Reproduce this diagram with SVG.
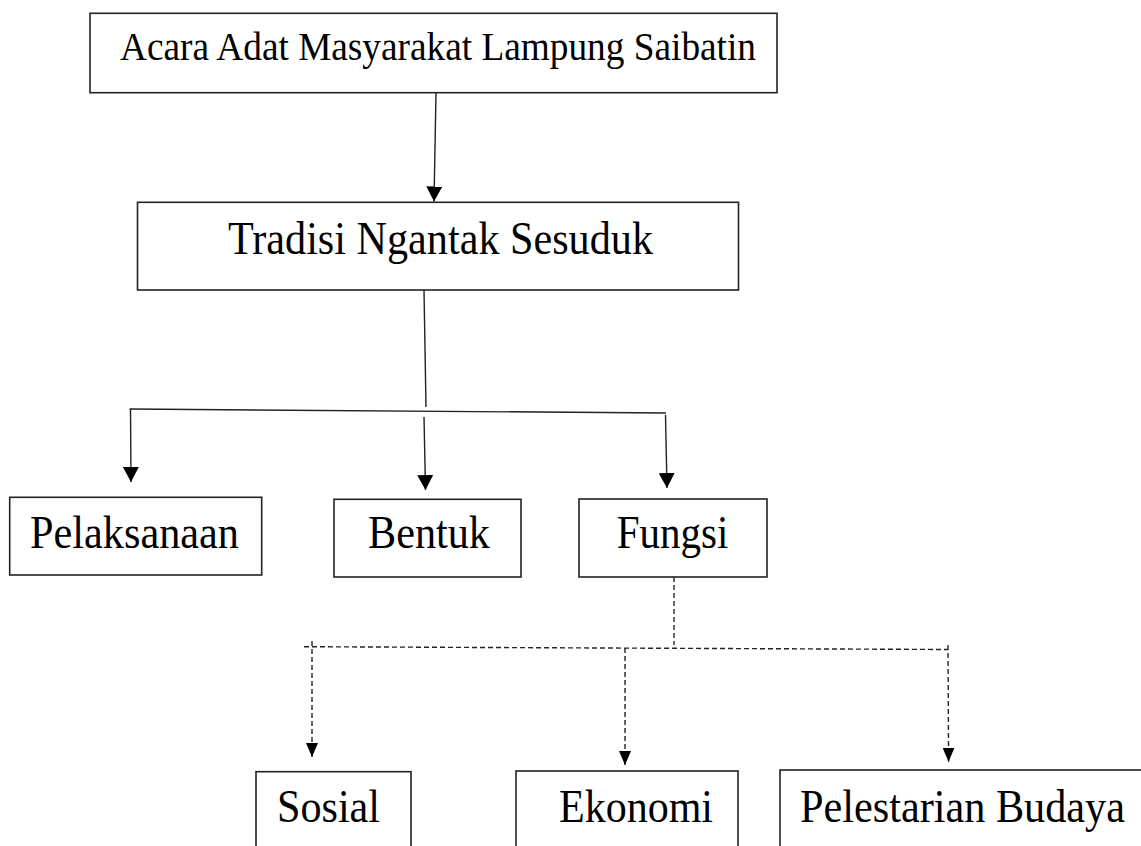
<svg xmlns="http://www.w3.org/2000/svg" width="1141" height="846" viewBox="0 0 1141 846">
<style>
.box{fill:#fff;stroke:#222;stroke-width:1.6}
.lbl{font-family:"Liberation Serif","Times New Roman",serif;fill:#000}
.big{font-size:46px}
.top{font-size:40px}
.ln{fill:none;stroke:#222;stroke-width:1.4}
.dash{fill:none;stroke:#222;stroke-width:1.4;stroke-dasharray:5 3}
</style>
<defs>
<marker id="arr" markerUnits="userSpaceOnUse" viewBox="0 0 15 16" markerWidth="15" markerHeight="16" refX="15" refY="8" orient="auto">
<path d="M0,0 L15,8 L0,16 z" fill="#000"/>
</marker>
<marker id="arrs" markerUnits="userSpaceOnUse" viewBox="0 0 14 12" markerWidth="14" markerHeight="12" refX="14" refY="6" orient="auto">
<path d="M0,0 L14,6 L0,12 z" fill="#000"/>
</marker>
</defs>
<g id="connectors">
<path class="ln" d="M436,93 L434,201.5" marker-end="url(#arr)"/>
<path class="ln" d="M424,290 L426,407"/>
<path class="ln" d="M129.6,409 L666,413"/>
<path class="ln" d="M130.5,409 L131,482" marker-end="url(#arr)"/>
<path class="ln" d="M424,417 L425.5,490" marker-end="url(#arr)"/>
<path class="ln" d="M665.5,415 L667,488" marker-end="url(#arr)"/>
<path class="dash" d="M674,577 L674,645"/>
<path class="dash" d="M304,646.7 L948,649.5"/>
<path class="dash" d="M312,641 L312,757" marker-end="url(#arrs)"/>
<path class="dash" d="M625,648 L625,765" marker-end="url(#arrs)"/>
<path class="dash" d="M948,645 L948.6,761.7" marker-end="url(#arrs)"/>
</g>
<g id="node-acara">
<rect class="box" x="90" y="13.3" width="687" height="79.4"/>
<text class="lbl top" x="120" y="60" textLength="636" lengthAdjust="spacingAndGlyphs">Acara Adat Masyarakat Lampung Saibatin</text>
</g>
<g id="node-tradisi">
<rect class="box" x="137.5" y="202.3" width="601" height="87.7"/>
<text class="lbl big" x="228" y="254" textLength="425" lengthAdjust="spacingAndGlyphs">Tradisi Ngantak Sesuduk</text>
</g>
<g id="node-pelaksanaan">
<rect class="box" x="9.7" y="497.3" width="252" height="77.7"/>
<text class="lbl big" x="30" y="548" textLength="209" lengthAdjust="spacingAndGlyphs">Pelaksanaan</text>
</g>
<g id="node-bentuk">
<rect class="box" x="334" y="499.3" width="187" height="77.7"/>
<text class="lbl big" x="368" y="548" textLength="122" lengthAdjust="spacingAndGlyphs">Bentuk</text>
</g>
<g id="node-fungsi">
<rect class="box" x="579" y="499" width="188" height="78"/>
<text class="lbl big" x="616.7" y="548.3" textLength="111.6" lengthAdjust="spacingAndGlyphs">Fungsi</text>
</g>
<g id="node-sosial">
<rect class="box" x="256" y="771.7" width="155" height="100"/>
<text class="lbl big" x="277" y="821.7" textLength="103" lengthAdjust="spacingAndGlyphs">Sosial</text>
</g>
<g id="node-ekonomi">
<rect class="box" x="516" y="771" width="222" height="100"/>
<text class="lbl big" x="559" y="821.7" textLength="154" lengthAdjust="spacingAndGlyphs">Ekonomi</text>
</g>
<g id="node-pelestarian">
<rect class="box" x="780" y="770" width="380" height="100"/>
<text class="lbl big" x="800" y="821.7" textLength="325" lengthAdjust="spacingAndGlyphs">Pelestarian Budaya</text>
</g>
</svg>
